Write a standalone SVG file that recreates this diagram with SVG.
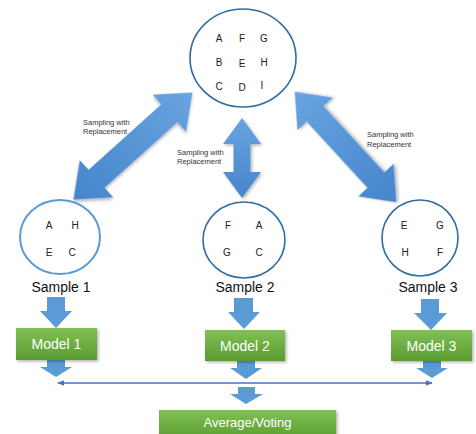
<svg xmlns="http://www.w3.org/2000/svg" width="476" height="434" viewBox="0 0 476 434">
<defs>
<linearGradient id="blue" x1="0" y1="0" x2="0" y2="1">
<stop offset="0" stop-color="#69a4df"/>
<stop offset="1" stop-color="#4585cc"/>
</linearGradient>
<linearGradient id="green" x1="0" y1="0" x2="0" y2="1">
<stop offset="0" stop-color="#80c055"/>
<stop offset="1" stop-color="#5a9c32"/>
</linearGradient>
<filter id="sh" x="-20%" y="-20%" width="140%" height="140%">
<feDropShadow dx="1.5" dy="1.5" stdDeviation="1.5" flood-color="#000" flood-opacity="0.3"/>
</filter>
<marker id="ah" viewBox="0 0 10 10" refX="9" refY="5" markerWidth="7" markerHeight="7" orient="auto-start-reverse" markerUnits="userSpaceOnUse">
<path d="M0,1 L10,5 L0,9 Z" fill="#4472c4"/>
</marker>
</defs>
<style>
.big{fill:url(#blue);filter:url(#sh)}
.dn{fill:#5b9bd5}
.ltr{font-family:"Liberation Sans",Arial,sans-serif;font-size:10px;fill:#222;text-anchor:middle}
.sm{font-family:"Liberation Sans",Arial,sans-serif;font-size:7.5px;fill:#333}
.lbl{font-family:"Liberation Sans",Arial,sans-serif;font-size:14px;fill:#111;text-anchor:middle}
.box{fill:url(#green);filter:url(#sh)}
.btxt{font-family:"Liberation Sans",Arial,sans-serif;font-size:14px;fill:#fff;text-anchor:middle}
.circ{fill:#fff;stroke:#2e6da4;stroke-width:1.6}
</style>

<g id="population">
<ellipse class="circ" cx="243" cy="58" rx="53" ry="49"/>
<text class="ltr" x="219" y="42">A</text><text class="ltr" x="242" y="42">F</text><text class="ltr" x="264" y="42">G</text>
<text class="ltr" x="219" y="66">B</text><text class="ltr" x="242" y="67">E</text><text class="ltr" x="264" y="66">H</text>
<text class="ltr" x="219" y="90">C</text><text class="ltr" x="242" y="91">D</text><text class="ltr" x="262" y="89">I</text>
</g>

<g id="connectors">
<path class="big" transform="translate(133,146) rotate(48)" d="M0,-80 L25,-49 L12,-49 L12,49 L25,49 L0,80 L-25,49 L-12,49 L-12,-49 L-25,-49 Z"/>
<path class="big" transform="translate(242,158)" d="M0,-40 L19,-14 L8.5,-14 L8.5,14 L19,14 L0,40 L-19,14 L-8.5,14 L-8.5,-14 L-19,-14 Z"/>
<path class="big" transform="translate(345.5,147) rotate(-42.6)" d="M0,-75 L24,-45 L11.5,-45 L11.5,45 L24,45 L0,75 L-24,45 L-11.5,45 L-11.5,-45 L-24,-45 Z"/>
<text class="sm" x="83" y="125">Sampling with</text>
<text class="sm" x="83" y="134">Replacement</text>
<text class="sm" x="177" y="155">Sampling with</text>
<text class="sm" x="177" y="164">Replacement</text>
<text class="sm" x="367" y="137">Sampling with</text>
<text class="sm" x="367" y="147">Replacement</text>

<path class="dn" d="M47,297 H65 V311 H72 L56,328 L40,311 H47 Z"/>
<path class="dn" d="M234,298 H253 V312 H260 L244,329 L228,312 H234 Z"/>
<path class="dn" d="M421,299 H439 V313 H447 L431,330 L414,313 H421 Z"/>

<path class="dn" d="M47,360 H65 V367 H72 L56,377 L40,367 H47 Z"/>
<path class="dn" d="M237,361 H255 V368 H262 L246,379 L230,368 H237 Z"/>
<path class="dn" d="M423,361 H441 V368 H448 L432,378 L416,368 H423 Z"/>
<path class="dn" d="M238,387 H255 V394 H263 L246,404 L230,394 H238 Z"/>

<line x1="58" y1="383" x2="432" y2="383" stroke="#4472c4" stroke-width="1.6" marker-start="url(#ah)" marker-end="url(#ah)"/>
</g>

<g id="sample1">
<ellipse cx="60" cy="237" rx="40" ry="37" fill="#fff" stroke="#5b9bd5" stroke-width="2"/>
<text class="ltr" x="49" y="229">A</text><text class="ltr" x="75" y="229">H</text>
<text class="ltr" x="49" y="256">E</text><text class="ltr" x="72" y="256">C</text>
<text class="lbl" x="61" y="292">Sample 1</text>
</g>
<g id="sample2">
<ellipse class="circ" cx="244" cy="240" rx="41" ry="38"/>
<text class="ltr" x="228" y="229">F</text><text class="ltr" x="259" y="229">A</text>
<text class="ltr" x="227" y="256">G</text><text class="ltr" x="259" y="256">C</text>
<text class="lbl" x="245" y="292">Sample 2</text>
</g>
<g id="sample3">
<ellipse class="circ" cx="420" cy="238" rx="38" ry="38"/>
<text class="ltr" x="404" y="229">E</text><text class="ltr" x="440" y="229">G</text>
<text class="ltr" x="405" y="256">H</text><text class="ltr" x="440" y="256">F</text>
<text class="lbl" x="428" y="292">Sample 3</text>
</g>

<g id="model1">
<rect class="box" x="16" y="328" width="81" height="32"/>
<text class="btxt" x="56.5" y="349">Model 1</text>
</g>
<g id="model2">
<rect class="box" x="205" y="330" width="80" height="31"/>
<text class="btxt" x="245" y="351">Model 2</text>
</g>
<g id="model3">
<rect class="box" x="391" y="330" width="81" height="31"/>
<text class="btxt" x="431.5" y="351">Model 3</text>
</g>
<g id="average">
<rect class="box" x="159" y="410" width="177" height="30"/>
<text class="btxt" x="247.5" y="427" style="font-size:13px">Average/Voting</text>
</g>
</svg>
